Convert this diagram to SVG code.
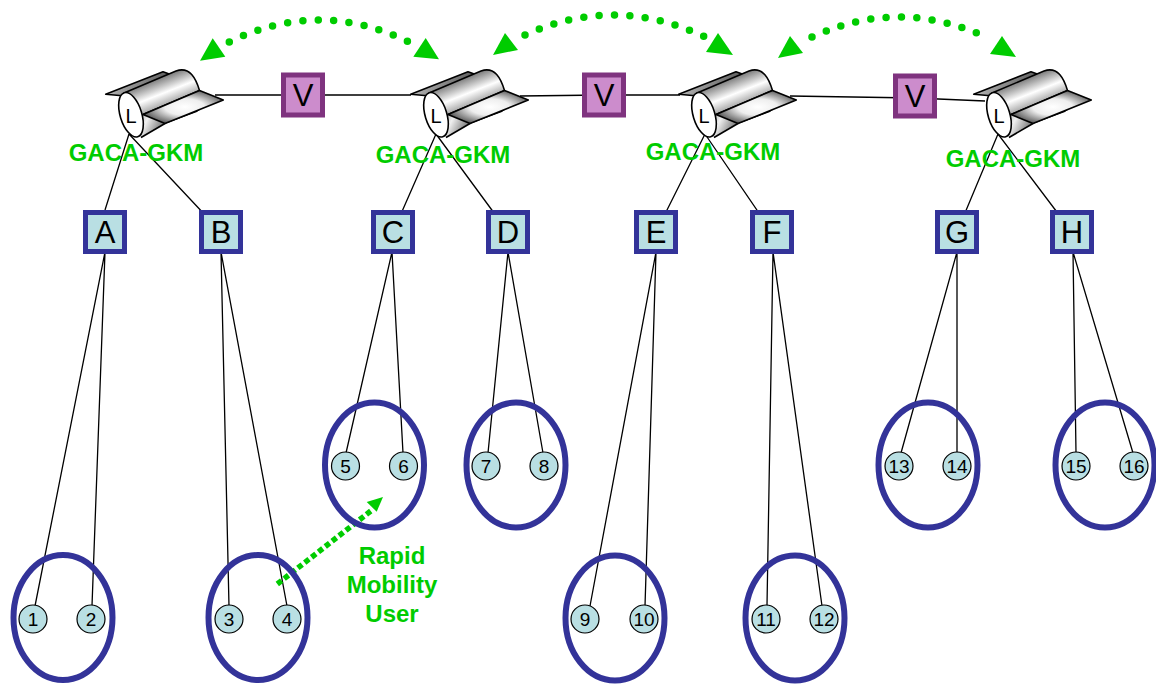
<svg xmlns="http://www.w3.org/2000/svg" xmlns:xlink="http://www.w3.org/1999/xlink" width="1156" height="684" viewBox="0 0 1156 684">
<style>
text{font-family:"Liberation Sans",Arial,sans-serif;text-anchor:middle;fill:#000}
.ln{stroke:#000;stroke-width:1.3;fill:none}
.sq{fill:#b9dfe3;stroke:#333399;stroke-width:5}
.sq-t{font-size:31px}
.v{fill:#cc8ccc;stroke:#7f337f;stroke-width:5}
.cell{fill:none;stroke:#333399;stroke-width:6}
.n{fill:#b9dfe3;stroke:#000;stroke-width:1.2}
.n-t{font-size:19px}
.l-t{font-size:20px}
.lbl{font-size:24px;font-weight:bold;fill:#00cc00}
.arc{fill:none;stroke:#00cc00;stroke-width:7.5;stroke-linecap:round;stroke-dasharray:0 15.4}
.dash{fill:none;stroke:#00cc00;stroke-width:5.5;stroke-dasharray:5.5 3.2}
.head{fill:#00cc00}
.r{stroke:#000;stroke-width:1.6;stroke-linejoin:round}
</style>
<defs>
<linearGradient id="g1" gradientUnits="userSpaceOnUse" x1="164" y1="70" x2="177" y2="103">
<stop offset="0" stop-color="#4d4d4d"/><stop offset="0.6" stop-color="#fff"/><stop offset="1" stop-color="#999"/>
</linearGradient>
<radialGradient id="g2" cx="0.52" cy="0.5" r="0.55">
<stop offset="0" stop-color="#fff"/><stop offset="0.45" stop-color="#eee"/><stop offset="1" stop-color="#555"/>
</radialGradient>
<linearGradient id="g3" x1="0" y1="0" x2="1" y2="0.2">
<stop offset="0" stop-color="#ccc"/><stop offset="1" stop-color="#555"/>
</linearGradient>
<linearGradient id="g4" x1="0" y1="0" x2="1" y2="0.4">
<stop offset="0" stop-color="#777"/><stop offset="0.5" stop-color="#f0f0f0"/><stop offset="1" stop-color="#777"/>
</linearGradient>
<g id="router">
<path class="r" d="M105.700 94.300L163 71.700L172 75L125 96Z" fill="url(#g3)"/>
<path class="r" d="M165 123L196 111.500L201 108L180 112Z" fill="#555"/>
<path d="M136 112L165 123.500L141 137.500L132 130Z" fill="url(#g4)"/>
<path class="r" d="M165 123.500L141 137.500" fill="none"/>
<path class="r" d="M124 93L176 71C190 66 196 79 199.500 90.500L143 114.500L134 118Z" fill="url(#g1)"/>
<path class="r" d="M199.500 90.500L223.300 100L165 123.500L143 114.500Z" fill="url(#g2)"/>
<ellipse class="r" cx="131" cy="114.800" rx="10.800" ry="23" transform="rotate(-17 131 114.800)" fill="#fff"/>
</g>
</defs>
<g id="connectors">
<path class="ln" d="M215 95H303M303 95H411"/>
<path class="ln" d="M520 96L604 95M604 95L680 95"/>
<path class="ln" d="M790 96L915 98M915 98L985 101"/>
<path class="ln" d="M129 134L105 210M129 134L221 232"/>
<path class="ln" d="M436 134L393 232M436 134L508 232"/>
<path class="ln" d="M705 134L656 232M705 134L772 232"/>
<path class="ln" d="M998 134L957 232M998 134L1072 232"/>
<path class="ln" d="M105 252L35 606M105 252L92 606"/>
<path class="ln" d="M221 252L229 606M221 252L287 606"/>
<path class="ln" d="M392 252L346 453M392 252L403 453"/>
<path class="ln" d="M508 252L488 453M508 252L543 453"/>
<path class="ln" d="M656 252L590 606M656 252L645 606"/>
<path class="ln" d="M773 252L767 606M773 252L822 606"/>
<path class="ln" d="M957 252L901 453M957 252V453"/>
<path class="ln" d="M1073 252L1076 453M1073 252L1133 453"/>
<path class="arc" d="M229.300 42Q319 -2 409 42"/>
<polygon class="head" points="212.700,38.300 200,60.700 225.300,56.700"/>
<polygon class="head" points="425.700,38 413.300,56.700 439,59.300"/>
<path class="arc" d="M525 35Q615 -6 705 37"/>
<polygon class="head" points="505,33 493,55 518,50"/>
<polygon class="head" points="718,33 706,52 733,55"/>
<path class="arc" d="M812 37Q901 -4 990 39"/>
<polygon class="head" points="790,36 778,58 803,53"/>
<polygon class="head" points="1002,36 990,54 1016,57"/>
<path class="dash" d="M277.300 584L372 510"/>
<polygon class="head" points="383,497 366.700,502 376.700,511.700"/>
</g>
<g id="router1"><use href="#router" xlink:href="#router"/><text class="l-t" x="131" y="122.500">L</text></g>
<g id="router2"><use href="#router" xlink:href="#router" x="305"/><text class="l-t" x="436" y="122.500">L</text></g>
<g id="router3"><use href="#router" xlink:href="#router" x="573"/><text class="l-t" x="704" y="122.500">L</text></g>
<g id="router4"><use href="#router" xlink:href="#router" x="868"/><text class="l-t" x="999" y="122.500">L</text></g>
<g id="label-gkm1"><text class="lbl" x="136" y="161">GACA-GKM</text></g>
<g id="label-gkm2"><text class="lbl" x="443" y="163">GACA-GKM</text></g>
<g id="label-gkm3"><text class="lbl" x="713" y="160">GACA-GKM</text></g>
<g id="label-gkm4"><text class="lbl" x="1013" y="167">GACA-GKM</text></g>
<g id="V1"><rect class="v" x="283.500" y="75" width="39" height="40"/><text class="sq-t" x="303" y="106">V</text></g>
<g id="V2"><rect class="v" x="584.500" y="75" width="39" height="40"/><text class="sq-t" x="604" y="106">V</text></g>
<g id="V3"><rect class="v" x="895.500" y="76" width="39" height="40"/><text class="sq-t" x="915" y="107">V</text></g>
<g id="A"><rect class="sq" x="85.500" y="212.500" width="39" height="39"/><text class="sq-t" x="105" y="243">A</text></g>
<g id="B"><rect class="sq" x="201.500" y="212.500" width="39" height="39"/><text class="sq-t" x="221" y="243">B</text></g>
<g id="C"><rect class="sq" x="373.500" y="212.500" width="39" height="39"/><text class="sq-t" x="393" y="243">C</text></g>
<g id="D"><rect class="sq" x="488.500" y="212.500" width="39" height="39"/><text class="sq-t" x="508" y="243">D</text></g>
<g id="E"><rect class="sq" x="636.500" y="212.500" width="39" height="39"/><text class="sq-t" x="656" y="243">E</text></g>
<g id="F"><rect class="sq" x="752.500" y="212.500" width="39" height="39"/><text class="sq-t" x="772" y="243">F</text></g>
<g id="G"><rect class="sq" x="937.500" y="212.500" width="39" height="39"/><text class="sq-t" x="957" y="243">G</text></g>
<g id="H"><rect class="sq" x="1052.500" y="212.500" width="39" height="39"/><text class="sq-t" x="1072" y="243">H</text></g>
<g id="cell-ab"><ellipse class="cell" cx="63" cy="617.500" rx="49.500" ry="62.500"/></g>
<g id="cell-b"><ellipse class="cell" cx="258" cy="617.500" rx="49.500" ry="62.500"/></g>
<g id="cell-c"><ellipse class="cell" cx="374.500" cy="465" rx="49.500" ry="62.500"/></g>
<g id="cell-d"><ellipse class="cell" cx="516" cy="465" rx="49.500" ry="62.500"/></g>
<g id="cell-e"><ellipse class="cell" cx="615" cy="618" rx="49.500" ry="62.500"/></g>
<g id="cell-f"><ellipse class="cell" cx="795" cy="618" rx="49.500" ry="62.500"/></g>
<g id="cell-g"><ellipse class="cell" cx="928" cy="465" rx="49.500" ry="62.500"/></g>
<g id="cell-h"><ellipse class="cell" cx="1105" cy="465" rx="49.500" ry="62.500"/></g>
<g id="n1"><circle class="n" cx="33" cy="619" r="14"/><text class="n-t" x="33" y="626">1</text></g>
<g id="n2"><circle class="n" cx="91" cy="619" r="14"/><text class="n-t" x="91" y="626">2</text></g>
<g id="n3"><circle class="n" cx="229" cy="619" r="14"/><text class="n-t" x="229" y="626">3</text></g>
<g id="n4"><circle class="n" cx="287" cy="619" r="14"/><text class="n-t" x="287" y="626">4</text></g>
<g id="n5"><circle class="n" cx="345.500" cy="466" r="14"/><text class="n-t" x="345.500" y="473">5</text></g>
<g id="n6"><circle class="n" cx="403.500" cy="466" r="14"/><text class="n-t" x="403.500" y="473">6</text></g>
<g id="n7"><circle class="n" cx="486" cy="466" r="14"/><text class="n-t" x="486" y="473">7</text></g>
<g id="n8"><circle class="n" cx="544" cy="466" r="14"/><text class="n-t" x="544" y="473">8</text></g>
<g id="n9"><circle class="n" cx="585" cy="619" r="14"/><text class="n-t" x="585" y="626">9</text></g>
<g id="n10"><circle class="n" cx="644" cy="619" r="14"/><text class="n-t" x="644" y="626">10</text></g>
<g id="n11"><circle class="n" cx="766" cy="619" r="14"/><text class="n-t" x="766" y="626">11</text></g>
<g id="n12"><circle class="n" cx="824" cy="619" r="14"/><text class="n-t" x="824" y="626">12</text></g>
<g id="n13"><circle class="n" cx="899" cy="466" r="14"/><text class="n-t" x="899" y="473">13</text></g>
<g id="n14"><circle class="n" cx="957" cy="466" r="14"/><text class="n-t" x="957" y="473">14</text></g>
<g id="n15"><circle class="n" cx="1076" cy="466" r="14"/><text class="n-t" x="1076" y="473">15</text></g>
<g id="n16"><circle class="n" cx="1134" cy="466" r="14"/><text class="n-t" x="1134" y="473">16</text></g>
<g id="label-rapid"><text class="lbl" x="392" y="564">Rapid</text><text class="lbl" x="392" y="593">Mobility</text><text class="lbl" x="392" y="622">User</text></g>
</svg>
